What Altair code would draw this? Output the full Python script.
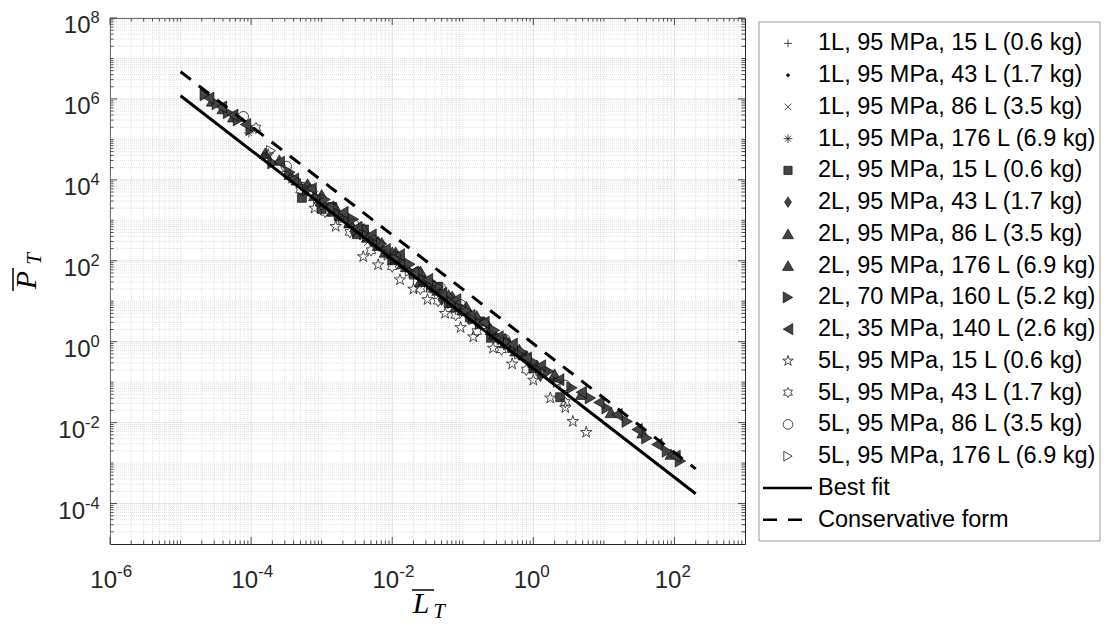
import altair as alt
import pandas as pd

# ---------------- data ----------------
series_names = [
    "1L, 95 MPa, 15 L (0.6 kg)",
    "1L, 95 MPa, 43 L (1.7 kg)",
    "1L, 95 MPa, 86 L (3.5 kg)",
    "1L, 95 MPa, 176 L (6.9 kg)",
    "2L, 95 MPa, 15 L (0.6 kg)",
    "2L, 95 MPa, 43 L (1.7 kg)",
    "2L, 95 MPa, 86 L (3.5 kg)",
    "2L, 95 MPa, 176 L (6.9 kg)",
    "2L, 70 MPa, 160 L (5.2 kg)",
    "2L, 35 MPa, 140 L (2.6 kg)",
    "5L, 95 MPa, 15 L (0.6 kg)",
    "5L, 95 MPa, 43 L (1.7 kg)",
    "5L, 95 MPa, 86 L (3.5 kg)",
    "5L, 95 MPa, 176 L (6.9 kg)",
]

L1 = [5.0e-4, 1.0e-3, 2.0e-3, 3.16e-3, 5.0e-3, 7.9e-3, 1.26e-2, 2.0e-2, 3.16e-2, 5.0e-2, 7.9e-2]
P1 = [8.6e3, 2.69e3, 1.19e3, 453, 344, 147, 104, 35.4, 25.6, 15.5, 5.9]

L2 = [6.31e-4, 1.12e-3, 2.24e-3, 3.55e-3, 6.31e-3, 1.12e-2, 1.78e-2, 3.55e-2, 6.31e-2, 0.112, 0.158]
P2 = [4.46e3, 2.59e3, 723, 524, 210, 116, 49.7, 22.5, 8.2, 5.24, 2.61]

L3 = [3.98e-4, 7.94e-4, 1.41e-3, 2.51e-3, 4.47e-3, 8.91e-3, 1.58e-2, 2.82e-2, 4.47e-2, 0.1, 0.178, 0.251]
P3 = [1.04e4, 4.32e3, 1.51e3, 834, 285, 159, 65.2, 25.5, 18.1, 5.45, 2.51, 1.25]

L4 = [9.3e-5, 3.16e-4, 5.62e-4, 1.12e-3, 2.0e-3, 3.55e-3, 7.08e-3, 1.26e-2, 2.24e-2, 3.98e-2, 7.08e-2, 0.126, 0.251, 0.398]
P4 = [1.45e5, 1.6e4, 6.55e3, 2.31e3, 1.34e3, 436, 226, 88.7, 45.9, 16.0, 9.73, 4.08, 1.85, 0.847]

L5 = [5.25e-4, 1.0e-3, 1.78e-3, 3.16e-3, 5.62e-3, 1.0e-2, 2.0e-2, 3.55e-2, 6.31e-2, 0.126, 0.251, 0.501, 1.0, 2.4,
      1.41e-3, 3.98e-3, 1.26e-2, 4.47e-2, 0.178, 0.708]
P5 = [3.6e3, 1.91e3, 1.24e3, 453, 295, 103, 47.8, 24.7, 9.02, 3.99, 1.25, 0.697, 0.218, 0.0424,
      2.13e3, 592, 120, 22.8, 3.16, 0.458]

L6 = [8.91e-4, 1.58e-3, 2.82e-3, 5.01e-3, 8.91e-3, 1.58e-2, 2.82e-2, 5.01e-2, 8.91e-2, 0.158, 0.316, 0.631, 1.26,
      6.31e-4, 2.24e-3, 7.08e-3, 2.24e-2, 7.08e-2, 0.224, 0.447]
P6 = [3.14e3, 1.82e3, 530, 361, 142, 73.1, 33.7, 11.0, 7.14, 3.14, 1.15, 0.511, 0.143,
      7.06e3, 1.23e3, 272, 51.5, 12.8, 2.6, 0.912]

L7 = [2.51e-4, 4.47e-4, 7.94e-4, 1.41e-3, 2.51e-3, 4.47e-3, 7.94e-3, 1.41e-2, 2.51e-2, 4.47e-2, 7.94e-2, 0.141, 0.282, 0.562, 1.12, 2.0,
      1.0e-3, 3.55e-3, 1.12e-2, 3.55e-2, 0.112, 0.398]
P7 = [3.08e4, 1.0e4, 4.12e3, 1.69e3, 873, 385, 165, 85.3, 31.2, 19.0, 7.43, 3.84, 1.58, 0.596, 0.264, 0.136,
      4.27e3, 690, 164, 31.0, 7.4, 1.2]

L8 = [2.82e-5, 3.98e-5, 5.62e-5, 3.55e-4, 1.0e-3, 2.51e-3, 6.31e-3, 1.58e-2, 3.98e-2, 0.1, 0.251, 0.631, 2.0, 4.79, 12.6, 35.5, 89.1,
      1.58e-4, 6.31e-4, 1.58e-3, 3.98e-3, 1.0e-2, 2.51e-2, 6.31e-2, 0.158, 0.398]
P8 = [8.91e5, 5.75e5, 3.63e5, 1.38e4, 3.02e3, 912, 240, 72.4, 22.4, 6.17, 2.0, 0.646, 0.158, 0.0501, 0.0178, 5.62e-3, 1.66e-3,
      4.55e4, 7.93e3, 2.05e3, 619, 163, 55.5, 14.3, 4.34, 0.95]

L9 = [2.24e-5, 3.31e-5, 4.79e-5, 6.61e-5, 1.0e-4, 2.04e-4, 6.31e-4, 1.78e-3, 4.47e-3, 1.12e-2, 2.82e-2, 7.08e-2, 0.178, 0.447, 1.0,
      1.65, 3.53, 6.44, 11.1, 21.4, 40.7, 79.4, 121.6,
      3.55e-4, 1.12e-3, 2.82e-3, 7.08e-3, 1.78e-2, 4.47e-2, 0.112, 0.282, 0.708]
P9 = [1.26e6, 7.59e5, 4.57e5, 3.02e5, 1.78e5, 2.63e4, 5.62e3, 1.41e3, 417, 112, 33.1, 9.55, 2.82, 0.891, 0.316,
      0.185, 0.0724, 0.0407, 0.0229, 0.0107, 4.17e-3, 1.95e-3, 1.12e-3,
      1.53e4, 3.26e3, 1.06e3, 260, 82.4, 22.8, 5.87, 1.91, 0.551]

L10 = [2.51e-5, 3.80e-5, 5.50e-5, 8.32e-5, 3.98e-4, 1.26e-3, 3.16e-3, 7.94e-3, 2.0e-2, 5.01e-2, 0.126, 0.316, 0.794,
       2.29, 4.79, 8.51, 15.3, 29.5, 56.2, 102,
       2.51e-4, 7.08e-4, 2.0e-3, 5.01e-3, 1.26e-2, 3.16e-2, 7.94e-2, 0.2, 0.501, 1.26]
P10 = [1.05e6, 6.31e5, 3.98e5, 2.34e5, 1.05e4, 2.14e3, 661, 191, 52.5, 15.8, 4.47, 1.32, 0.398,
       0.115, 0.0562, 0.0316, 0.0158, 6.76e-3, 2.88e-3, 1.48e-3,
       2.74e4, 6.05e3, 1.57e3, 434, 141, 34.6, 11.0, 3.03, 0.877, 0.254]

L11 = [1.74e-4, 7.94e-4, 1.58e-3, 3.89e-3, 6.31e-3, 1.29e-2, 2.0e-2, 3.16e-2, 5.62e-2, 9.33e-2, 0.141, 0.269, 0.501, 1.0, 1.74, 2.84, 3.63, 5.62]
P11 = [4.17e4, 2.0e3, 708, 126, 79.4, 33.9, 20.0, 11.0, 5.01, 2.24, 1.32, 0.692, 0.282, 0.112, 0.0407, 0.0234, 0.0107, 5.75e-3]

L12 = [1.17e-4, 1.66e-4, 5.01e-4, 1.12e-3, 2.51e-3, 5.01e-3, 1.0e-2, 2.51e-2, 4.47e-2, 7.94e-2, 0.158, 0.355, 0.794, 2.84]
P12 = [1.91e5, 3.55e4, 5.62e3, 1.58e3, 501, 178, 70.8, 20.0, 10.0, 4.47, 1.78, 0.631, 0.2, 0.0316]

L13 = [7.76e-5, 3.16e-4, 7.08e-4, 1.41e-3, 2.82e-3, 5.62e-3, 1.12e-2, 2.24e-2, 4.79e-2, 9.33e-2, 0.2, 0.398, 0.794, 1.41, 2.82]
P13 = [3.63e5, 2.14e4, 5.62e3, 2.0e3, 794, 316, 126, 50.1, 21.4, 8.13, 2.82, 1.12, 0.398, 0.178, 0.0832]

L14 = [1.91e-4, 3.98e-4, 8.91e-4, 2.0e-3, 3.98e-3, 8.91e-3, 1.78e-2, 3.55e-2, 7.08e-2, 0.141, 0.282, 0.631, 1.26, 2.24]
P14 = [5.25e4, 1.12e4, 3.55e3, 1.12e3, 447, 141, 56.2, 22.4, 8.91, 3.55, 1.41, 0.501, 0.2, 0.1]

series_L = [L1, L2, L3, L4, L5, L6, L7, L8, L9, L10, L11, L12, L13, L14]
series_P = [P1, P2, P3, P4, P5, P6, P7, P8, P9, P10, P11, P12, P13, P14]

fit_L = [1.0e-5, 200.0]
fit_P = [1.2e6, 1.74e-4]
cons_L = [1.0e-5, 200.0]
cons_P = [4.7e6, 7.2e-4]

x_major = [1e-6, 1e-4, 1e-2, 1e0, 1e2]
x_major_exp = ["-6", "-4", "-2", "0", "2"]
y_major = [1e-4, 1e-2, 1e0, 1e2, 1e4, 1e6, 1e8]
y_major_exp = ["-4", "-2", "0", "2", "4", "6", "8"]
x_odd_decades = [1e-5, 1e-3, 1e-1, 1e1]
y_odd_decades = [1e-3, 1e-1, 1e1, 1e3, 1e5, 1e7]
minor_mult = [2, 3, 4, 5, 6, 7, 8, 9]
x_minor = [m * 10.0 ** e for e in range(-6, 3) for m in minor_mult] + x_odd_decades
y_minor = [m * 10.0 ** e for e in range(-5, 8) for m in minor_mult] + y_odd_decades

# ---------------- styling ----------------
W, H = 635, 526
FONT = "Liberation Sans"
SERIF = "Liberation Serif"
DARK = "#444444"

PLUS = "M-1,0L1,0M0,-1L0,1"
XMARK = "M-1,-1L1,1M-1,1L1,-1"
AST = "M-1,0L1,0M0,-1L0,1M-0.7,-0.7L0.7,0.7M-0.7,0.7L0.7,-0.7"
DIAM = "M0,-1L0.65,0L0,1L-0.65,0Z"
PENT = ("M0,-1L0.225,-0.309L0.951,-0.309L0.363,0.118L0.588,0.809L0,0.382"
        "L-0.588,0.809L-0.363,0.118L-0.951,-0.309L-0.225,-0.309Z")
HEXA = ("M0,-1L0.289,-0.5L0.866,-0.5L0.577,0L0.866,0.5L0.289,0.5L0,1"
        "L-0.289,0.5L-0.866,0.5L-0.577,0L-0.866,-0.5L-0.289,-0.5Z")

# (shape, filled, size)
marker_styles = [
    (PLUS, False, 72),
    ("circle", True, 10),
    (XMARK, False, 50),
    (AST, False, 90),
    ("square", True, 81),
    (DIAM, True, 130),
    ("triangle-up", True, 144),
    ("triangle-up", True, 144),
    ("triangle-right", True, 144),
    ("triangle-left", True, 144),
    (PENT, False, 144),
    (HEXA, False, 121),
    ("circle", False, 110),
    ("triangle-right", False, 110),
]

xs = alt.Scale(type="log", domain=[1e-6, 1e3], nice=False)
ys = alt.Scale(type="log", domain=[1e-5, 1e8], nice=False)


def X(f):
    return alt.X(f, scale=xs, axis=None, title=None)


def Y(f):
    return alt.Y(f, scale=ys, axis=None, title=None)


def point_mark(shape, filled, size):
    if filled:
        return alt.MarkDef(type="point", shape=shape, filled=True,
                           fill=DARK if shape != "circle" else "#111111",
                           stroke="#000000", strokeWidth=0.6, size=size, opacity=1)
    return alt.MarkDef(type="point", shape=shape, filled=False, fill="transparent",
                       stroke="#1a1a1a", strokeWidth=0.8, size=size, opacity=1)


one = pd.DataFrame({"a": [0]})
layers = []

# grid
layers.append(alt.Chart(pd.DataFrame({"v": x_minor})).mark_rule(
    color="#d9d9d9", strokeWidth=0.8, strokeDash=[1, 1]).encode(x=X("v:Q")))
layers.append(alt.Chart(pd.DataFrame({"v": y_minor})).mark_rule(
    color="#d9d9d9", strokeWidth=0.8, strokeDash=[1, 1]).encode(y=Y("v:Q")))
layers.append(alt.Chart(pd.DataFrame({"v": x_major})).mark_rule(
    color="#dcdcdc", strokeWidth=0.8).encode(x=X("v:Q")))
layers.append(alt.Chart(pd.DataFrame({"v": y_major})).mark_rule(
    color="#dcdcdc", strokeWidth=0.8).encode(y=Y("v:Q")))

# scatter series
for name, Ls, Ps, (shape, filled, size) in zip(series_names, series_L, series_P, marker_styles):
    df = pd.DataFrame({"L": Ls, "P": Ps, "series": name})
    layers.append(alt.Chart(df, mark=point_mark(shape, filled, size)).encode(x=X("L:Q"), y=Y("P:Q")))

# fit lines
layers.append(alt.Chart(pd.DataFrame({"L": fit_L, "P": fit_P})).mark_line(
    color="#000000", strokeWidth=3).encode(x=X("L:Q"), y=Y("P:Q")))
layers.append(alt.Chart(pd.DataFrame({"L": cons_L, "P": cons_P})).mark_line(
    color="#000000", strokeWidth=3, strokeDash=[13, 10]).encode(x=X("L:Q"), y=Y("P:Q")))

# inner ticks on all four sides
TC = "#262626"
for vals, ln in ((x_major, 7), (x_minor, 3.5)):
    d = pd.DataFrame({"v": vals})
    layers.append(alt.Chart(d).mark_rule(color=TC, strokeWidth=0.8).encode(
        x=X("v:Q"), y=alt.value(H), y2=alt.value(H - ln)))
    layers.append(alt.Chart(d).mark_rule(color=TC, strokeWidth=0.8).encode(
        x=X("v:Q"), y=alt.value(0), y2=alt.value(ln)))
for vals, ln in ((y_major, 7), (y_minor, 3.5)):
    d = pd.DataFrame({"v": vals})
    layers.append(alt.Chart(d).mark_rule(color=TC, strokeWidth=0.8).encode(
        y=Y("v:Q"), x=alt.value(0), x2=alt.value(ln)))
    layers.append(alt.Chart(d).mark_rule(color=TC, strokeWidth=0.8).encode(
        y=Y("v:Q"), x=alt.value(W), x2=alt.value(W - ln)))

# tick labels: "10" + superscript exponent
xl = pd.DataFrame({"v": x_major, "e": x_major_exp})
layers.append(alt.Chart(xl).mark_text(align="right", baseline="alphabetic", fontSize=24, font=FONT,
                                      color=TC, dx=7).encode(
    x=X("v:Q"), y=alt.value(H + 44), text=alt.value("10")))
layers.append(alt.Chart(xl).mark_text(align="left", baseline="alphabetic", fontSize=17, font=FONT,
                                      color=TC, dx=7).encode(
    x=X("v:Q"), y=alt.value(H + 33), text="e:N"))

yl = pd.DataFrame({"v": y_major, "e": y_major_exp})
for neg, xe in ((True, -25), (False, -19.5)):
    d = yl[yl["e"].str.startswith("-") == neg]
    layers.append(alt.Chart(d).mark_text(align="right", baseline="alphabetic", fontSize=24, font=FONT,
                                         color=TC, dy=15).encode(
        y=Y("v:Q"), x=alt.value(xe), text=alt.value("10")))
    layers.append(alt.Chart(d).mark_text(align="left", baseline="alphabetic", fontSize=16.5, font=FONT,
                                         color=TC, dy=5).encode(
        y=Y("v:Q"), x=alt.value(xe), text="e:N"))

# axis titles (overlined, subscripted)
layers.append(alt.Chart(one).mark_text(text="P", font=SERIF, fontStyle="italic", fontSize=30, angle=270,
                                       align="center", baseline="middle", color="#000").encode(
    x=alt.value(-83), y=alt.value(262)))
layers.append(alt.Chart(one).mark_text(text="T", font=SERIF, fontStyle="italic", fontSize=21, angle=270,
                                       align="center", baseline="middle", color="#000").encode(
    x=alt.value(-75), y=alt.value(241)))
layers.append(alt.Chart(one).mark_rule(color="#000", strokeWidth=1.5).encode(
    x=alt.value(-97), y=alt.value(250), y2=alt.value(273)))

layers.append(alt.Chart(one).mark_text(text="L", font=SERIF, fontStyle="italic", fontSize=30,
                                       align="center", baseline="middle", color="#000").encode(
    x=alt.value(311), y=alt.value(586)))
layers.append(alt.Chart(one).mark_text(text="T", font=SERIF, fontStyle="italic", fontSize=21,
                                       align="center", baseline="middle", color="#000").encode(
    x=alt.value(329), y=alt.value(594)))
layers.append(alt.Chart(one).mark_rule(color="#000", strokeWidth=1.5).encode(
    x=alt.value(302), x2=alt.value(324), y=alt.value(572)))

# legend
LX0, LX1, LY0, LY1 = 649, 990, 4, 523
layers.append(alt.Chart(one).mark_rect(fill="#ffffff", stroke="#9a9a9a", strokeWidth=1).encode(
    x=alt.value(LX0), x2=alt.value(LX1), y=alt.value(LY0), y2=alt.value(LY1)))
row_y = [25.4 + 31.75 * i for i in range(16)]
LEG_FS = 23.5
for i, (name, (shape, filled, size)) in enumerate(zip(series_names, marker_styles)):
    layers.append(alt.Chart(one, mark=point_mark(shape, filled, size * 0.85)).encode(
        x=alt.value(678), y=alt.value(row_y[i])))
    layers.append(alt.Chart(one).mark_text(text=name, align="left", baseline="middle", fontSize=LEG_FS,
                                           font=FONT, color="#000").encode(
        x=alt.value(708), y=alt.value(row_y[i])))
layers.append(alt.Chart(one).mark_rule(color="#000", strokeWidth=2.5).encode(
    x=alt.value(653), x2=alt.value(702), y=alt.value(row_y[14])))
layers.append(alt.Chart(one).mark_text(text="Best fit", align="left", baseline="middle", fontSize=LEG_FS,
                                       font=FONT, color="#000").encode(
    x=alt.value(708), y=alt.value(row_y[14])))
layers.append(alt.Chart(one).mark_rule(color="#000", strokeWidth=2.5, strokeDash=[14, 11]).encode(
    x=alt.value(653), x2=alt.value(693), y=alt.value(row_y[15])))
layers.append(alt.Chart(one).mark_text(text="Conservative form", align="left", baseline="middle",
                                       fontSize=LEG_FS, font=FONT, color="#000").encode(
    x=alt.value(708), y=alt.value(row_y[15])))

chart = alt.layer(*layers).properties(
    width=W, height=H,
    autosize=alt.AutoSizeParams(type="none"),
    padding={"left": 102, "top": 10, "right": 356, "bottom": 80},
    background="#ffffff",
).configure_view(stroke="#262626", strokeWidth=1)

chart.save("out.html", embed_options={"renderer": "svg", "actions": False})
